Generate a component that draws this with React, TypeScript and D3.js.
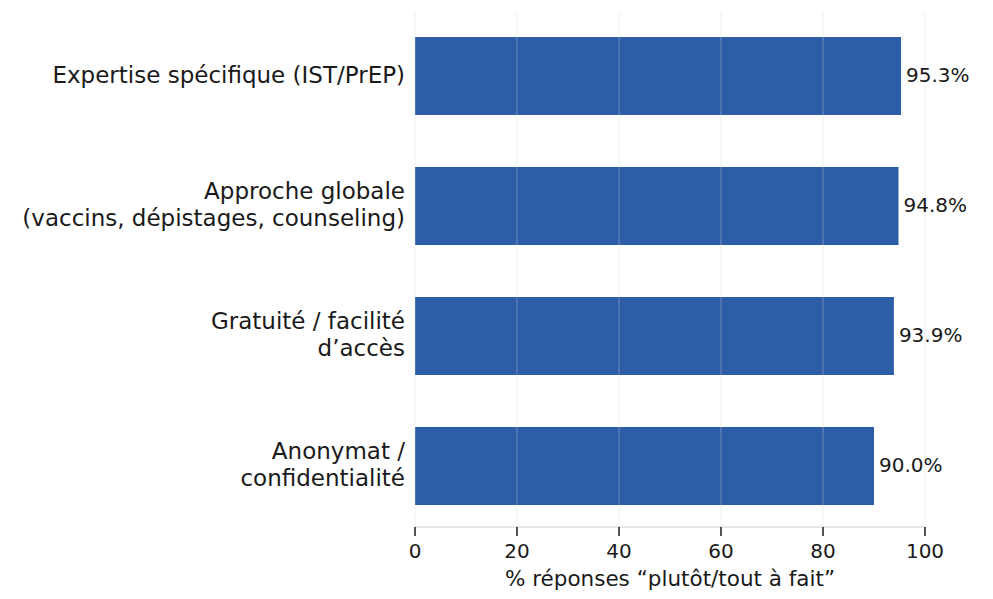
import React from "react";
import * as d3 from "d3";

const categories: string[][] = [
  ["Expertise spécifique (IST/PrEP)"],
  ["Approche globale", "(vaccins, dépistages, counseling)"],
  ["Gratuité / facilité", "d’accès"],
  ["Anonymat /", "confidentialité"],
];
const values: number[] = [95.3, 94.8, 93.9, 90.0];
const xTicks: number[] = [0, 20, 40, 60, 80, 100];
const xLabel = "% réponses “plutôt/tout à fait”";

const W = 993;
const H = 599;
const FONT = "DejaVu Sans, sans-serif";

export default function App() {
  const x = d3.scaleLinear().domain([0, 100]).range([415, 925]);
  const y = d3
    .scaleBand<number>()
    .domain(d3.range(categories.length))
    .range([11, 531])
    .paddingInner(0.4)
    .paddingOuter(0.2);
  const axisY = 527;
  const bw = y.bandwidth();
  const lineH = 26.5;

  return (
    <svg width={W} height={H} style={{ position: "absolute", left: 0, top: 0 }} fontFamily={FONT}>
      <rect width={W} height={H} fill="#fff" />
      {values.map((v, i) => (
        <rect key={i} x={x(0)} y={y(i)!} width={x(v) - x(0)} height={bw} fill="#2c5ea8" />
      ))}
      {xTicks.map((t) => (
        <line key={t} x1={x(t)} x2={x(t)} y1={12} y2={axisY} stroke="#d8d8d8" strokeOpacity={0.3} strokeWidth={1.2} />
      ))}
      <line x1={x(0)} x2={x(100)} y1={axisY} y2={axisY} stroke="#cccccc" strokeWidth={1.2} />
      {xTicks.map((t) => (
        <g key={"t" + t}>
          <line x1={x(t)} x2={x(t)} y1={axisY} y2={axisY + 9} stroke="#1a1a1a" strokeWidth={1.5} />
          <text x={x(t)} y={axisY + 25} fontSize={20} textAnchor="middle" dominantBaseline="middle" fill="#1a1a1a">
            {t}
          </text>
        </g>
      ))}
      <text x={x(50)} y={580} fontSize={21.5} textAnchor="middle" dominantBaseline="middle" fill="#1a1a1a">
        {xLabel}
      </text>
      {values.map((v, i) => (
        <text key={"v" + i} x={x(v) + 5} y={y(i)! + bw / 2} fontSize={20} dominantBaseline="middle" fill="#1a1a1a">
          {v.toFixed(1) + "%"}
        </text>
      ))}
      {categories.map((lines, i) => {
        const cy = y(i)! + bw / 2;
        const start = cy - ((lines.length - 1) * lineH) / 2;
        return (
          <text key={"c" + i} x={405} fontSize={23} textAnchor="end" fill="#1a1a1a">
            {lines.map((l, j) => (
              <tspan key={j} x={405} y={start + j * lineH} dominantBaseline="middle">
                {l}
              </tspan>
            ))}
          </text>
        );
      })}
    </svg>
  );
}
